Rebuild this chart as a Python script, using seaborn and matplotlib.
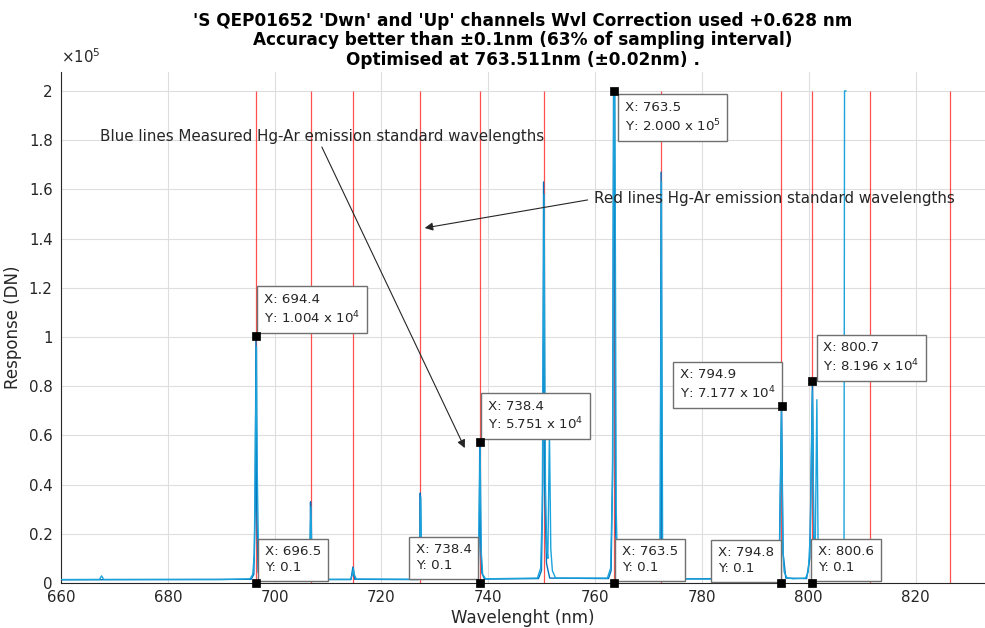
import numpy as np
import pandas as pd
import matplotlib
matplotlib.use("Agg")
import matplotlib.pyplot as plt
from matplotlib.ticker import FuncFormatter, MultipleLocator
import seaborn as sns

# Hg-Ar standard emission lines (nm)
std_lines_nm = [696.54, 706.72, 714.70, 727.29, 738.40, 750.39,
                763.51, 772.38, 794.82, 800.62, 811.53, 826.45]

# 'Dwn' channel spectrum (nm, DN)
dwn_wl = [660.0, 667.2, 667.6, 668.0, 690.0, 695.4, 695.9, 696.2, 696.4, 696.6,
          696.75, 697.0, 697.3, 697.9, 706.0, 706.5, 706.8, 707.05, 707.5,
          714.2, 714.6, 714.75, 714.9, 715.3, 726.8, 727.2, 727.37, 727.55, 727.9,
          737.4, 737.9, 738.2, 738.47, 738.7, 738.95, 739.5,
          749.2, 749.8, 750.1, 750.45, 750.7, 750.95, 751.15, 751.45, 751.7, 752.0, 752.6,
          762.3, 762.9, 763.25, 763.5, 763.7, 763.95, 764.2, 764.9,
          771.5, 772.15, 772.43, 772.65, 773.3,
          793.8, 794.1, 794.55, 794.9, 795.15, 795.4, 795.9, 797.0,
          799.4, 799.9, 800.3, 800.68, 800.95, 801.2, 801.52, 801.78, 802.2, 803.0,
          806.6, 806.7, 807.0]
dwn_dn = [1400, 1450, 2900, 1450, 1400, 1700, 3500, 12000, 60000, 96000,
          45000, 9000, 3000, 1700, 1500, 4000, 31000, 3500, 1500,
          1500, 3500, 6000, 3500, 1600, 1500, 5000, 35000, 4500, 1600,
          1700, 4000, 15000, 55000, 12000, 3500, 1700,
          2000, 6000, 30000, 158000, 40000, 14000, 10000, 62000, 14000, 5000, 2000,
          2000, 6000, 40000, 200000, 200000, 30000, 6000, 2000,
          1700, 5000, 163000, 5000, 1700,
          1500, 3000, 15000, 70000, 14000, 4500, 2200, 1700,
          2000, 4500, 20000, 78000, 20000, 10000, 74500, 8000, 2500, 1700,
          1700, 200000, 200000]

# 'Up' channel spectrum (nm, DN)
up_wl = [660.0, 695.6, 696.1, 696.35, 696.5, 696.65, 696.9, 697.4, 706.3, 706.6,
         706.72, 706.85, 707.2, 714.3, 714.65, 715.0, 726.9, 727.15, 727.27, 727.4,
         727.7, 737.6, 738.1, 738.3, 738.4, 738.55, 738.8, 739.3,
         749.4, 749.95, 750.2, 750.35, 750.55, 750.9, 751.5,
         762.5, 763.0, 763.3, 763.45, 763.6, 763.85, 764.3,
         771.8, 772.2, 772.35, 772.5, 772.9,
         794.0, 794.5, 794.9, 795.2, 795.7,
         799.6, 800.2, 800.7, 800.95, 801.4, 806.0]
up_dn = [1300, 1500, 3500, 30000, 100400, 30000, 4500, 1600, 1400, 4000,
         33000, 4000, 1400, 1400, 6500, 1500, 1400, 6000, 36600, 6000,
         1500, 1500, 4000, 20000, 57510, 20000, 4000, 1600,
         1800, 5000, 40000, 163000, 40000, 8000, 2000,
         1800, 5000, 50000, 200000, 200000, 20000, 2000,
         1600, 12000, 167000, 12000, 1600,
         2000, 12000, 71770, 12000, 2000,
         1800, 10000, 81960, 15000, 3000, 1600]

# Data tips: marker position and displayed text
tip_x = [696.5, 738.4, 763.5, 794.9, 800.7, 696.5, 738.4, 763.5, 794.8, 800.6]
tip_y = [100400, 57510, 200000, 71770, 81960, 0.1, 0.1, 0.1, 0.1, 0.1]
tip_text = ["X: 694.4\nY: 1.004 x 10$^{4}$",
            "X: 738.4\nY: 5.751 x 10$^{4}$",
            "X: 763.5\nY: 2.000 x 10$^{5}$",
            "X: 794.9\nY: 7.177 x 10$^{4}$",
            "X: 800.7\nY: 8.196 x 10$^{4}$",
            "X: 696.5\nY: 0.1",
            "X: 738.4\nY: 0.1",
            "X: 763.5\nY: 0.1",
            "X: 794.8\nY: 0.1",
            "X: 800.6\nY: 0.1"]
# box anchor (ha, va) and offset in pixels from the marker
tip_anchor = [("left", "bottom", 8, 10), ("left", "bottom", 8, 9),
              ("left", "top", 11, -10), ("right", "bottom", -6, 5),
              ("left", "bottom", 11, 7), ("left", "bottom", 9, 9),
              ("right", "bottom", -8, 11), ("left", "bottom", 8, 9),
              ("right", "bottom", -7, 8), ("left", "bottom", 6, 9)]

title_lines = ["'S QEP01652 'Dwn' and 'Up' channels Wvl Correction used +0.628 nm",
               "Accuracy better than \u00b10.1nm (63% of sampling interval)",
               "Optimised at 763.511nm (\u00b10.02nm) ."]

sns.set_theme(style="white")
plt.rcParams["font.family"] = ["DejaVu Sans"]

ink = "#262626"
fig = plt.figure(figsize=(9.85, 6.28), dpi=100)
ax = fig.add_axes([61 / 985, 45 / 628, 924 / 985, 511 / 628])

ax.set_xlim(660, 833)
ax.set_ylim(0, 2.077e5)
ax.xaxis.set_major_locator(MultipleLocator(20))
ax.yaxis.set_major_locator(MultipleLocator(0.2e5))
ax.grid(True, color="#dedede", lw=0.8, zorder=0)
ax.set_axisbelow(True)

# standard lines sit under the measured spectra
ax.vlines(std_lines_nm, 0, 2.0e5, color="#ff3030", lw=0.9, alpha=0.85, zorder=1.5)

up = pd.DataFrame({"wl": up_wl, "dn": up_dn})
dwn = pd.DataFrame({"wl": dwn_wl, "dn": dwn_dn})
sns.lineplot(data=up, x="wl", y="dn", ax=ax, color="#0072BD", lw=1.0,
             sort=False, estimator=None, zorder=2)
sns.lineplot(data=dwn, x="wl", y="dn", ax=ax, color="#1BA3DB", lw=1.0,
             sort=False, estimator=None, zorder=3)

for sp in ["top", "right"]:
    ax.spines[sp].set_visible(False)
for sp in ["left", "bottom"]:
    ax.spines[sp].set_color(ink)
    ax.spines[sp].set_linewidth(0.8)

ax.tick_params(axis="both", direction="in", length=4, width=0.8, color=ink,
               labelcolor=ink, labelsize=10.8)
ax.tick_params(axis="x", pad=5)
ax.tick_params(axis="y", pad=6)
ax.yaxis.set_major_formatter(FuncFormatter(lambda v, p: f"{v / 1e5:g}"))
ax.text(0.0, 1.012, r"$\times10^{5}$", transform=ax.transAxes, ha="left",
        va="bottom", fontsize=10.8, color=ink)

ax.set_xlabel("Wavelenght (nm)", fontsize=12, color=ink, labelpad=3)
ax.set_ylabel("Response (DN)", fontsize=12, color=ink, labelpad=5)
ax.set_title("\n".join(title_lines), fontsize=12.2, fontweight="bold",
             color="black", pad=5, linespacing=1.12)

# Explanatory arrows
ax.annotate("", xy=(735.6, 0.5485e5), xytext=(708.84, 1.772e5),
            arrowprops=dict(arrowstyle="-|>", color=ink, lw=0.8,
                            mutation_scale=12, shrinkA=0, shrinkB=0), zorder=6)
ax.text(667.3, 1.813e5, "Blue lines Measured Hg-Ar emission standard wavelengths",
        ha="left", va="center", fontsize=10.9, color=ink, zorder=6)
ax.annotate("", xy=(728.1, 1.443e5), xytext=(758.6, 1.557e5),
            arrowprops=dict(arrowstyle="-|>", color=ink, lw=0.8,
                            mutation_scale=12, shrinkA=0, shrinkB=0), zorder=6)
ax.text(759.8, 1.561e5, "Red lines Hg-Ar emission standard wavelengths",
        ha="left", va="center", fontsize=10.9, color=ink, zorder=6)

# Data tips
for x, y, txt, (ha, va, dx, dy) in zip(tip_x, tip_y, tip_text, tip_anchor):
    ax.annotate(txt, xy=(x, y), xytext=(dx, dy), textcoords="offset pixels",
                ha=ha, va=va, multialignment="left", fontsize=9.6, color=ink,
                linespacing=1.25,
                bbox=dict(boxstyle="square,pad=0.5", fc="white", ec="#707070", lw=1.0),
                zorder=8, annotation_clip=False)
sns.scatterplot(x=tip_x, y=tip_y, ax=ax, marker="s", s=40, color="black",
                edgecolor="black", zorder=9, clip_on=False)

fig.savefig("out.png", dpi=100)
